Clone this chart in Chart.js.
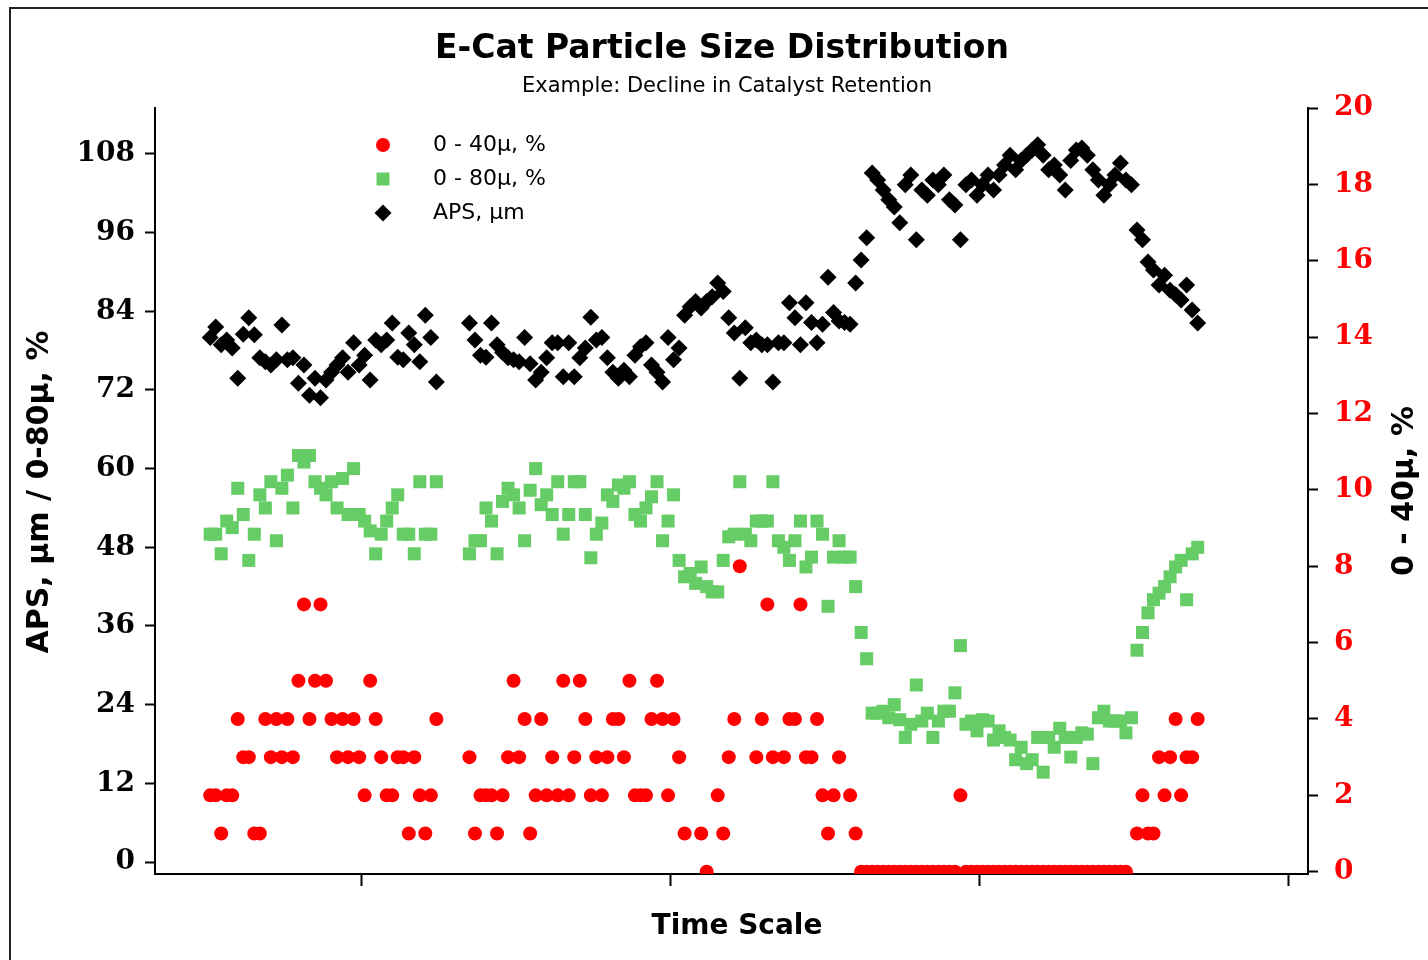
<!DOCTYPE html>
<html>
<head>
<meta charset="utf-8">
<script src="https://cdn.jsdelivr.net/npm/chart.js@4/dist/chart.umd.min.js"></script>
<style>
  html, body { margin: 0; padding: 0; background: #fff; }
  #wrap { position: relative; width: 1428px; height: 960px; }
</style>
</head>
<body>
<div id="wrap"><canvas id="psdChart" width="1428" height="960"></canvas></div>
<script>
// sample times (arbitrary day index, no labels on the time axis)
const days = [
  10, 11, 12, 13, 14, 15, 16, 17, 18, 19,
  20, 21, 22, 23, 24, 25, 26, 27, 28, 29,
  30, 31, 32, 33, 34, 35, 36, 37, 38, 39,
  40, 41, 42, 43, 44, 45, 46, 47, 48, 49,
  50, 51,
  57, 58, 59, 60, 61, 62, 63, 64, 65, 66,
  67, 68, 69, 70, 71, 72, 73, 74, 75, 76,
  77, 78, 79, 80, 81, 82, 83, 84, 85, 86,
  87, 88, 89, 90, 91, 92, 93, 94, 95, 96,
  97, 98, 99, 100, 101, 102, 103, 104, 105, 106,
  107, 108, 109, 110, 111, 112, 113, 114, 115, 116,
  117, 118, 119, 120, 121, 122, 123, 124, 125, 126,
  127, 128, 129, 130, 131, 132, 133, 134, 135, 136,
  137, 138, 139, 140, 141, 142, 143, 144, 145, 146,
  147, 148, 149, 150, 151, 152, 153, 154, 155, 156,
  157, 158, 159, 160, 161, 162, 163, 164, 165, 166,
  167, 168, 169, 170, 171, 172, 173, 174, 175, 176,
  177, 178, 179, 180, 181, 182, 183, 184, 185, 186,
  187, 188, 189
];

// 0 - 40µ, % (right axis)
const fines40 = [
  2, 2, 1, 2, 2, 4, 3, 3, 1, 1,
  4, 3, 4, 3, 4, 3, 5, 7, 4, 5,
  7, 5, 4, 3, 4, 3, 4, 3, 2, 5,
  4, 3, 2, 2, 3, 3, 1, 3, 2, 1,
  2, 4,
  3, 1, 2, 2, 2, 1, 2, 3, 5, 3,
  4, 1, 2, 4, 2, 3, 2, 5, 2, 3,
  5, 4, 2, 3, 2, 3, 4, 4, 3, 5,
  2, 2, 2, 4, 5, 4, 2, 4, 3, 1,
  null, null, 1, 0, null, 2, 1, 3, 4, 8,
  null, null, 3, 4, 7, 3, null, 3, 4, 4,
  7, 3, 3, 4, 2, 1, 2, 3, null, 2,
  1, 0, 0, 0, 0, 0, 0, 0, 0, 0,
  0, 0, 0, 0, 0, 0, 0, 0, 0, 2,
  0, 0, 0, 0, 0, 0, 0, 0, 0, 0,
  0, 0, 0, 0, 0, 0, 0, 0, 0, 0,
  0, 0, 0, 0, 0, 0, 0, 0, 0, 0,
  null, 1, 2, 1, 1, 3, 2, 3, 4, 2,
  3, 3, 4
];

// 0 - 80µ, % (left axis)
const fines80 = [
  50, 50, 47, 52, 51, 57, 53, 46, 50, 56,
  54, 58, 49, 57, 59, 54, 62, 61, 62, 58,
  57, 56, 58, 54, 58.5, 53, 60, 53, 52, 50.5,
  47, 50, 52, 54, 56, 50, 50, 47, 58, 50,
  50, 58,
  47, 49, 49, 54, 52, 47, 55, 57, 56, 54,
  49, 56.7, 60, 54.5, 56, 53, 58, 50, 53, 58,
  58, 53, 46.4, 50, 51.7, 56, 55, 57.5, 57, 58,
  53, 52, 54, 55.7, 58, 49, 52, 56, 46, 43.5,
  44, 42.5, 45, 42, 41.2, 41.2, 46, 49.6, 50, 58,
  50, 49, 52, 52, 52, 58, 49, 48, 46, 49,
  52, 45, 46.5, 52, 50, 39, 46.5, 49, 46.5, 46.5,
  42, 35, 31, 22.7, 22.7, 23, 22, 24, 21.7, 19,
  21, 27, 21.5, 22.7, 19, 21.5, 23, 23, 25.8, 33,
  21, 21.5, 20, 21.7, 21.5, 18.6, 20, 19, 18.6, 15.6,
  17.5, 15, 15.6, 19, 13.7, 19, 17.5, 20.4, 19, 16,
  19, 19.7, 19.5, 15, 22, 23, 21.5, 21.5, 21.5, 19.7,
  22, 32.3, 35, 38, 40, 41, 42, 43.5, 45, 46,
  40, 47, 48
];

// APS, µm (left axis)
const aps = [
  80, 81.6, 78.9, 79.6, 78.4, 73.8, 80.5, 83, 80.4, 76.9,
  76.3, 75.8, 76.6, 81.9, 76.6, 76.9, 73, 75.8, 71.2, 73.8,
  70.8, 73.5, 74.7, 75.8, 76.9, 74.7, 79.2, 75.8, 77.3, 73.5,
  79.6, 78.9, 79.6, 82.2, 77, 76.6, 80.7, 78.9, 76.3, 83.4,
  80, 73.2,
  82.2, 79.6, 77.3, 77, 82.2, 78.9, 77.7, 76.9, 76.6, 76.3,
  80, 76, 73.5, 74.7, 76.9, 79.2, 79.2, 74, 79.2, 74,
  76.9, 78.4, 83.1, 79.6, 80, 76.9, 74.7, 73.8, 75, 74,
  77.3, 78.6, 79.2, 75.8, 74.7, 73.2, 80, 76.6, 78.4, 83.4,
  84.7, 85.5, 84.5, 85.5, 86.2, 88.3, 87, 83, 80.7, 73.8,
  81.5, 79.2, 79.6, 78.9, 78.9, 73.2, 79.2, 79.2, 85.3, 83,
  78.9, 85.3, 82.3, 79.2, 82, 89.2, 83.8, 82.5, 82.3, 82,
  88.3, 91.8, 95.2, 105.1, 104, 102.5, 101, 99.9, 97.5, 103.3,
  104.8, 94.9, 102.5, 101.7, 104, 103.3, 104.8, 101, 100.2, 94.9,
  103.3, 104, 101.7, 103.3, 104.8, 102.5, 104.8, 106.3, 107.8, 105.6,
  107, 107.8, 108.6, 109.4, 107.8, 105.6, 106.3, 104.8, 102.5, 107,
  108.6, 108.9, 107.8, 105.6, 104, 101.7, 103.3, 104.8, 106.6, 104,
  103.3, 96.4, 94.9, 91.5, 90.3, 88, 89.5, 87.2, 86.5, 85.7,
  88, 84.2, 82.2
];

const leftTicks = [0, 12, 24, 36, 48, 60, 72, 84, 96, 108];
const rightTicks = [0, 2, 4, 6, 8, 10, 12, 14, 16, 18, 20];
const timeTicks = [37.5, 93.5, 149.5, 205.5];

const RED = "#ff0000";
const GREEN = "#66cc66";
const BLACK = "#000000";

function toPoints(values) {
  const pts = [];
  values.forEach((v, k) => {
    if (v !== null) pts.push({ x: days[k], y: v });
  });
  return pts;
}

function drawMarker(ctx, style, x, y, color) {
  ctx.fillStyle = color;
  ctx.beginPath();
  if (style === "circle") {
    ctx.arc(x, y, 7, 0, Math.PI * 2);
  } else if (style === "rect") {
    ctx.rect(x - 6.5, y - 6.5, 13, 13);
  } else {
    ctx.moveTo(x, y - 8.5);
    ctx.lineTo(x + 8.5, y);
    ctx.lineTo(x, y + 8.5);
    ctx.lineTo(x - 8.5, y);
    ctx.closePath();
  }
  ctx.fill();
}

function drawText(ctx, str, x, y, font, color, angle) {
  ctx.save();
  ctx.translate(x, y);
  if (angle) ctx.rotate(angle);
  ctx.font = font;
  ctx.fillStyle = color;
  ctx.textAlign = "center";
  ctx.textBaseline = "middle";
  ctx.fillText(str, 0, 0);
  ctx.restore();
}

const decorations = {
  id: "decorations",
  beforeDraw(chart) {
    const ctx = chart.ctx;
    ctx.save();
    ctx.fillStyle = "#fff";
    ctx.fillRect(0, 0, chart.width, chart.height);
    // outer frame, only its top and left edges fall inside the picture
    ctx.strokeStyle = "#222";
    ctx.lineWidth = 2;
    ctx.strokeRect(10, 8, chart.width + 40, chart.height + 40);
    ctx.restore();
  },
  afterDraw(chart) {
    const ctx = chart.ctx;
    drawText(ctx, "E-Cat Particle Size Distribution", 722, 49, "bold 33px 'DejaVu Sans'", "#000");
    drawText(ctx, "Example: Decline in Catalyst Retention", 727, 87, "21px 'DejaVu Sans'", "#000");
    drawText(ctx, "APS, µm / 0-80µ, %", 40, 492, "bold 30px 'DejaVu Sans'", "#000", -Math.PI / 2);
    drawText(ctx, "0 - 40µ, %", 1405, 491, "bold 30px 'DejaVu Sans'", "#000", -Math.PI / 2);
    drawText(ctx, "Time Scale", 737, 927, "bold 28px 'DejaVu Sans'", "#000");

    // legend inside the plot
    const items = [
      ["circle", RED, "0 - 40µ, %"],
      ["rect", GREEN, "0 - 80µ, %"],
      ["rectRot", BLACK, "APS, µm"]
    ];
    ctx.save();
    items.forEach((it, k) => {
      const y = 145 + k * 34;
      drawMarker(ctx, it[0], 383, y, it[1]);
      ctx.font = "22px 'DejaVu Sans'";
      ctx.fillStyle = "#000";
      ctx.textAlign = "left";
      ctx.textBaseline = "middle";
      ctx.fillText(it[2], 433, y);
    });
    ctx.restore();
  }
};

const tickFont = { family: "'DejaVu Serif'", weight: "bold", size: 28 };
const axisGrid = { drawOnChartArea: false, drawTicks: true, tickLength: 10, tickColor: "#000", tickWidth: 2 };
const axisBorder = { display: true, color: "#000", width: 2 };

new Chart(document.getElementById("psdChart"), {
  type: "scatter",
  data: {
    datasets: [
      { label: "0 - 40µ, %", data: toPoints(fines40), yAxisID: "y1",
        pointStyle: "circle", pointRadius: 7, pointHoverRadius: 7,
        backgroundColor: RED, borderColor: RED, borderWidth: 0, clip: 0 },
      { label: "0 - 80µ, %", data: toPoints(fines80), yAxisID: "y",
        pointStyle: "rect", pointRadius: 9.2, pointHoverRadius: 9.2,
        backgroundColor: GREEN, borderColor: GREEN, borderWidth: 0, clip: 0 },
      { label: "APS, µm", data: toPoints(aps), yAxisID: "y",
        pointStyle: "rectRot", pointRadius: 8.5, pointHoverRadius: 8.5,
        backgroundColor: BLACK, borderColor: BLACK, borderWidth: 0, clip: 0 }
    ]
  },
  options: {
    responsive: false,
    animation: false,
    devicePixelRatio: 1,
    layout: { padding: { top: 108, left: 0, right: 0, bottom: 0 } },
    plugins: { legend: { display: false }, tooltip: { enabled: false } },
    scales: {
      x: {
        type: "linear", min: 0, max: 209,
        afterBuildTicks: s => { s.ticks = timeTicks.map(v => ({ value: v })); },
        afterFit: s => { s.height = 86; },
        ticks: { display: false },
        grid: Object.assign({}, axisGrid, { tickLength: 12 }),
        border: axisBorder
      },
      y: {
        position: "left", min: -1.83, max: 115,
        afterBuildTicks: s => { s.ticks = leftTicks.map(v => ({ value: v })); },
        afterFit: s => { s.width = 155; },
        ticks: { color: "#000", font: tickFont, padding: 10 },
        grid: axisGrid,
        border: axisBorder
      },
      y1: {
        position: "right", min: -0.06, max: 20,
        afterBuildTicks: s => { s.ticks = rightTicks.map(v => ({ value: v })); },
        afterFit: s => { s.width = 120; },
        ticks: { color: RED, font: tickFont, padding: 16 },
        grid: axisGrid,
        border: axisBorder
      }
    }
  },
  plugins: [decorations]
});
</script>
</body>
</html>
